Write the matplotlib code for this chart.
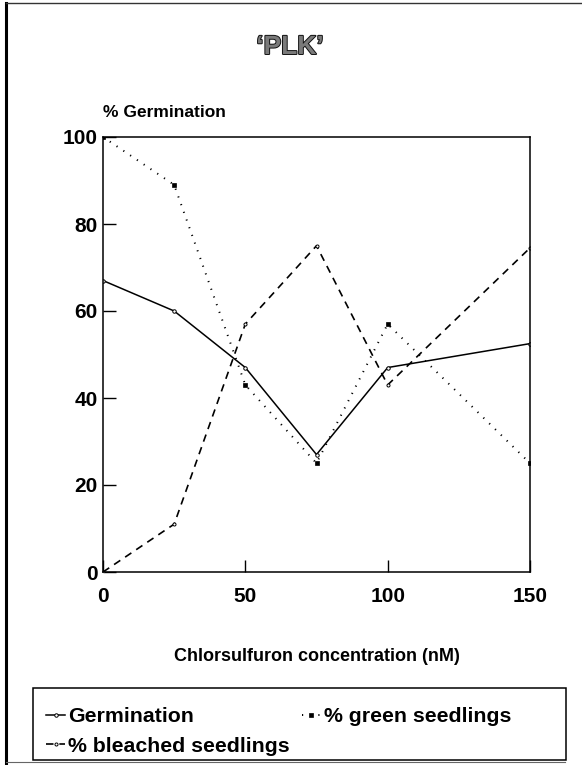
import numpy as np
import matplotlib
matplotlib.use("Agg")
import matplotlib.pyplot as plt
import matplotlib.patheffects as pe
from matplotlib.lines import Line2D
from matplotlib.patches import Rectangle

plt.rcParams["font.family"] = ["Liberation Sans", "DejaVu Sans"]
plt.rcParams["font.weight"] = "bold"

# chlorsulfuron concentration [nM]
conc = [0, 25, 50, 75, 100, 150]
# percentages
germination = [67, 60, 47, 27, 47, 52.5]
green_seedlings = [100, 89, 43, 25, 57, 25]
bleached_seedlings = [0, 11, 57, 75, 43, 74.5]

x_ticks = [0, 50, 100, 150]
y_ticks = [0, 20, 40, 60, 80, 100]

fig = plt.figure(figsize=(5.82, 7.65), dpi=100)
W, H = 582, 765

# axes placed in pixel terms of the original page
ax = fig.add_axes([103 / W, 1 - 572 / H, (530 - 103) / W, (572 - 137) / H])

ax.plot(conc, germination, color="black", lw=1.1, marker="o", ms=2.5,
        mfc="white", mec="black", mew=0.7, label="Germination")
ax.plot(conc, bleached_seedlings, color="black", lw=1.2, ls=(0, (4.5, 3.5)),
        marker="o", ms=2.2, mfc="white", mec="black", mew=0.7,
        label="% bleached seedlings")
ax.plot(conc, green_seedlings, color="black", lw=1.4, ls=(0, (0.6, 3.6)),
        marker="s", ms=2.2, mfc="black", mec="black", mew=0.5,
        label="% green seedlings")

ax.set_xlim(0, 150)
ax.set_ylim(0, 100)
ax.set_xticks(x_ticks)
ax.set_yticks(y_ticks)
ax.tick_params(direction="in", length=9, width=1.0, labelsize=15)
ax.tick_params(axis="x", pad=11)
ax.tick_params(axis="y", pad=4)
for s in ax.spines.values():
    s.set_linewidth(1.1)
for lab in ax.get_xticklabels() + ax.get_yticklabels():
    lab.set_fontweight("bold")

ax.set_xlabel("Chlorsulfuron concentration (nM)", fontsize=13, fontweight="bold",
              labelpad=30)

fig.text(103 / W, 1 - 117 / H, "% Germination", fontsize=12.5, fontweight="bold",
         ha="left", va="baseline")

title = fig.text(290 / W, 1 - 47 / H, "\u2018PLK\u2019", fontsize=19, fontweight="bold",
                 ha="center", va="center", color="#7a7a7a")
title.set_path_effects([pe.withStroke(linewidth=1.4, foreground="#111111")])

# legend entries, with a plain box drawn round them
handles, labels = ax.get_legend_handles_labels()
leg = fig.legend(handles, labels, loc="upper left", ncol=2,
                 bbox_to_anchor=(46 / W, 1 - 707 / H), fontsize=15.3,
                 frameon=False, handlelength=0.9, handletextpad=0.15,
                 columnspacing=0.55, borderpad=0, labelspacing=0.5,
                 borderaxespad=0)
for t in leg.get_texts():
    t.set_fontweight("bold")
fig.add_artist(Rectangle((33 / W, 1 - 760 / H), (566 - 33) / W, (760 - 688) / H,
                         transform=fig.transFigure, fill=False,
                         edgecolor="black", lw=1.1))

# page frame of the scanned figure
fig.add_artist(Line2D([6 / W, 6 / W], [0.003, 1 - 3 / H], color="black", lw=2.2,
                      transform=fig.transFigure))
fig.add_artist(Line2D([6 / W, 1.0], [1 - 3 / H, 1 - 3 / H], color="#333333", lw=1.0,
                      transform=fig.transFigure))
fig.add_artist(Line2D([6 / W, 0.97], [3 / H, 3 / H], color="#666666", lw=0.8,
                      transform=fig.transFigure))

fig.savefig("out.png", dpi=100)
